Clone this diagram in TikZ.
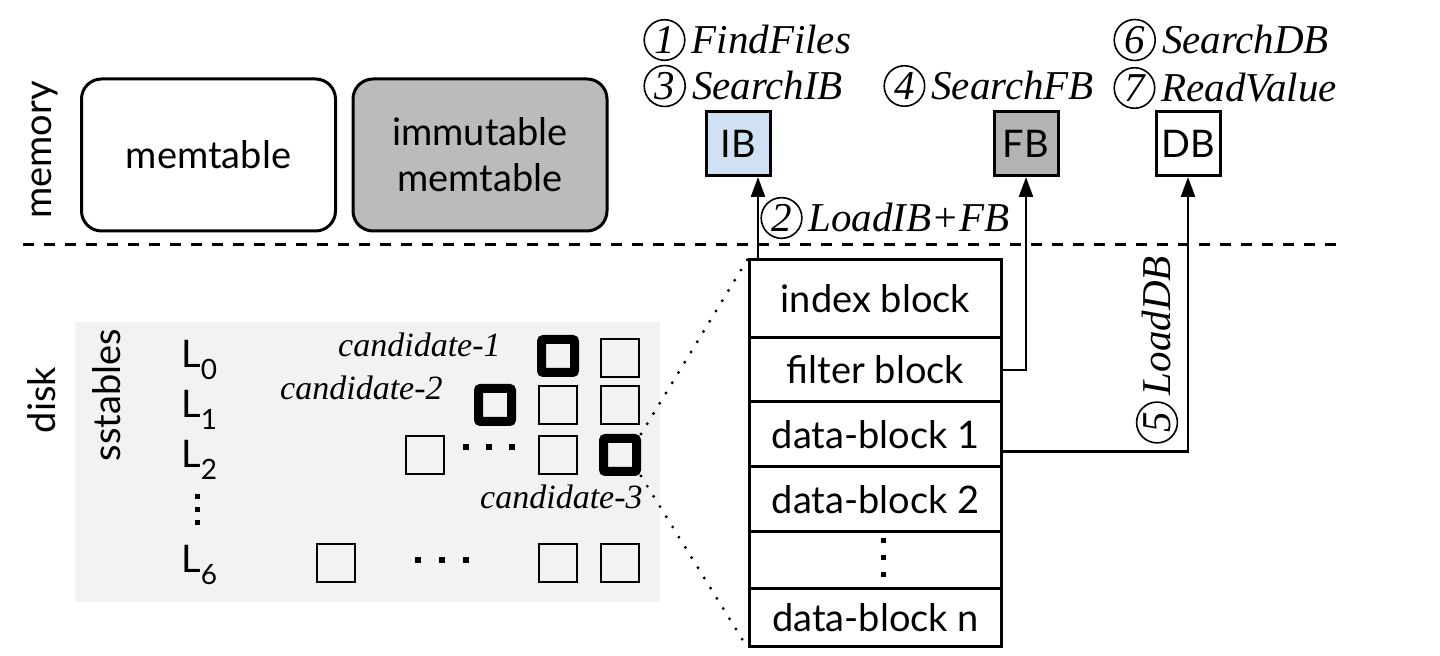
\documentclass[tikz,border=0pt]{standalone}
\usepackage{fontspec}
\setmainfont{Liberation Serif}
\newfontfamily\gs{Lato}
\usetikzlibrary{arrows.meta}
\definecolor{ibblue}{HTML}{CFE2F3}
\definecolor{fbgray}{HTML}{B3B3B3}
\definecolor{imgray}{HTML}{BBBBBB}
\definecolor{bggray}{HTML}{F2F2F2}
\newcommand{\cnum}[1]{\tikz[baseline=(cc.base)]\node[circle,draw,line width=0.8pt,inner sep=1.2pt,font=\itshape](cc){#1};}
\newcommand{\Lsub}[1]{L\raisebox{-6pt}{\fontsize{14}{14}\selectfont #1}}
\begin{document}
\begin{tikzpicture}[x=0.5pt,y=-0.5pt,
 sans/.style={font=\gs\fontsize{19}{23}\selectfont},
 lab/.style={font=\fontsize{20.5}{24}\selectfont\itshape, inner sep=0pt},
 cand/.style={font=\fontsize{17}{20}\selectfont\itshape, inner sep=0pt},
 memb/.style={draw, line width=1.5pt, rounded corners=10pt, minimum width=127pt, minimum height=76pt, align=center, sans},
 blk/.style={draw, line width=1.5pt, minimum size=32pt, inner sep=0pt, sans},
 row/.style={draw, line width=1.5pt, minimum width=126pt, inner sep=0pt, sans},
 sq/.style={draw, line width=1.2pt, minimum size=19pt, inner sep=0pt},
 thk/.style={draw, line width=4.5pt, minimum size=16.5pt, inner sep=0pt, rounded corners=1pt},
 conn/.style={line width=1.3pt, -{Triangle[length=10pt,width=7pt]}},
 zoomline/.style={line width=1.6pt, line cap=round, dash pattern=on 0pt off 6pt},
]
\useasboundingbox (0,0) rectangle (1440,656);
% memory area
\node[sans, rotate=90] (mem) at (45,150) {memory};
\node[memb, fill=white] (mt) at (208.5,155) {memtable};
\node[memb, fill=imgray] (imt) at (480,155) {immutable\\memtable};
\draw[line width=1.5pt, dash pattern=on 5.5pt off 5pt] (23,245) -- (1340,245);
% disk area
\node[sans, rotate=90] (disk) at (42,400) {disk};
\fill[bggray] (75,322) rectangle (660,602);
\node[sans, rotate=90] (sst) at (107,395) {sstables};
\node[sans, anchor=west, inner sep=0pt] (l0) at (181,360) {\Lsub{0}};
\node[sans, anchor=west, inner sep=0pt] (l1) at (181,410) {\Lsub{1}};
\node[sans, anchor=west, inner sep=0pt] (l2) at (181,460) {\Lsub{2}};
\node[sans, anchor=west, inner sep=0pt] (l6) at (181,565) {\Lsub{6}};
\foreach \yy in {497,510,523} \fill (194.5,\yy-2.5) rectangle (199.5,\yy+2.5);
% sstable squares
\node[thk] (a0) at (558,356) {};
\node[sq] (b0) at (620,358) {};
\node[thk] (a1) at (495,405) {};
\node[sq] (b1) at (558,405) {};
\node[sq] (c1) at (620,405) {};
\node[sq] (a2) at (425,455) {};
\node[sq] (b2) at (558,455) {};
\node[thk] (c2) at (620,455) {};
\node[sq] (a6) at (336,563) {};
\node[sq] (b6) at (558,563) {};
\node[sq] (c6) at (620,563) {};
\foreach \xx in {466,489,512} \fill (\xx-3,444) rectangle (\xx+3,450);
\foreach \xx in {418,442,466} \fill (\xx-3,557) rectangle (\xx+3,563);
\node[cand, anchor=east] (cd1) at (501,345) {candidate-1};
\node[cand, anchor=east] (cd2) at (443,388) {candidate-2};
\node[cand, anchor=east] (cd3) at (643,497) {candidate-3};
% expanded sstable
\node[row, minimum height=39pt] (ridx) at (875.5,299) {index block};
\node[row, minimum height=32pt] (rflt) at (875.5,370) {filter block};
\node[row, minimum height=32.5pt] (rd1) at (875.5,434.5) {data-block 1};
\node[row, minimum height=32.5pt] (rd2) at (875.5,499.5) {data-block 2};
\node[row, minimum height=28.5pt] (rdots) at (875.5,560.5) {};
\node[row, minimum height=29pt] (rdn) at (875.5,618) {data-block n};
\foreach \yy in {541,558,575} \fill (880.5,\yy-2.5) rectangle (885.5,\yy+2.5);
\draw[zoomline] (c2.north east) -- (ridx.north west);
\draw[zoomline] (c2.south east) -- (rdn.south west);
% memory blocks
\node[blk, fill=ibblue] (IB) at (738.5,143.5) {IB};
\node[blk, fill=fbgray] (FB) at (1026,143.5) {FB};
\node[blk, fill=white] (DB) at (1188,143.5) {DB};
\coordinate (ibx) at (758,0);
\draw[conn] (ridx.north -| ibx) -- (IB.south -| ibx);
\draw[conn] (rflt.east) -| (FB.south);
\draw[conn] ([yshift=-8.5pt]rd1.east) -| (DB.south);
% labels
\node[lab, anchor=west] (t1) at (643,40) {\cnum{1}\hspace{3pt}FindFiles};
\node[lab, anchor=west] (t3) at (643,86) {\cnum{3}\hspace{3pt}SearchIB};
\node[lab, anchor=west] (t4) at (883,86) {\cnum{4}\hspace{3pt}SearchFB};
\node[lab, anchor=west] (t6) at (1113,40) {\cnum{6}\hspace{3pt}SearchDB};
\node[lab, anchor=west] (t7) at (1113,88) {\cnum{7}\hspace{3pt}ReadValue};
\node[lab, anchor=west] (t2) at (760,218) {\cnum{2}\hspace{3pt}LoadIB+FB};
\node[lab, rotate=90] (t5) at (1157,350) {\cnum{5}\hspace{3pt}LoadDB};
\end{tikzpicture}
\end{document}
